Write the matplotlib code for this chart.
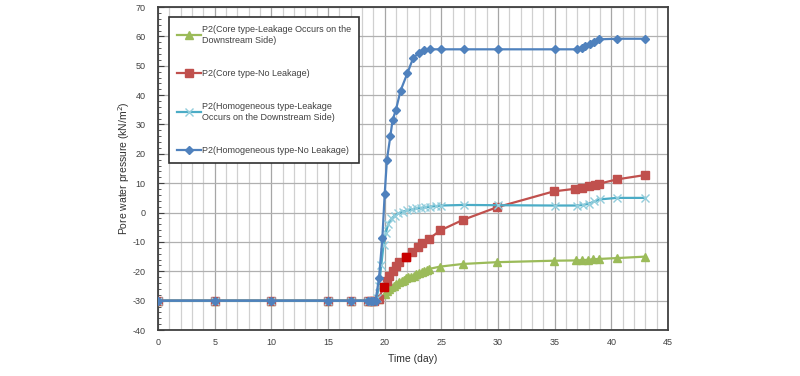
import numpy as np
import matplotlib
matplotlib.use("Agg")
import matplotlib.pyplot as plt
from matplotlib.ticker import MultipleLocator

plt.rcParams['font.family'] = ['Liberation Sans', 'DejaVu Sans']
plt.rcParams['axes.unicode_minus'] = False

# P2 (Core type - Leakage occurs on the downstream side)
core_leak_t = [0, 5, 10, 15, 17, 18.5, 19.0, 19.5, 20.0, 20.2, 20.4, 20.6, 20.8, 21.0, 21.3, 21.5,
               21.7, 21.9, 22.1, 22.3, 22.6, 22.8, 23.0, 23.3, 23.5, 23.7, 23.9, 24.9, 26.9, 29.9,
               34.9, 36.9, 37.4, 37.9, 38.4, 38.9, 40.5, 43.0]
core_leak_p = [-30, -30, -30, -30, -30, -30, -30, -29.5, -27.7, -26.8, -26.0, -25.4, -24.9, -24.4,
               -23.8, -23.3, -22.8, -22.4, -22.0, -21.8, -21.5, -21.0, -20.6, -20.2, -19.8, -19.5,
               -19.2, -18.4, -17.5, -16.9, -16.4, -16.3, -16.2, -16.1, -15.9, -15.8, -15.5, -15.0]

# P2 (Core type - No leakage)
core_no_t = [0, 5, 10, 15, 17, 18.5, 18.8, 19.1, 19.5, 19.9, 20.2, 20.4, 20.7, 21.0, 21.3, 21.9,
             22.4, 22.9, 23.3, 23.9, 24.9, 26.9, 29.9, 34.9, 36.8, 37.4, 38.0, 38.6, 38.9, 40.5, 43.0]
core_no_p = [-30, -30, -30, -30, -30, -30, -30, -30, -29.3, -25.2, -23.2, -21.5, -19.8, -18.3,
             -16.9, -15.2, -13.3, -11.8, -10.5, -9.0, -6.1, -2.5, 1.8, 7.2, 8.1, 8.5, 9.0, 9.4,
             9.8, 11.3, 12.8]
core_no_hl_t = [19.9, 21.9]
core_no_hl_p = [-25.2, -15.2]

# P2 (Homogeneous type - Leakage occurs on the downstream side)
homo_leak_t = [0, 5, 10, 15, 17, 18.5, 19.0, 19.3, 19.5, 19.7, 19.9, 20.1, 20.3, 20.6, 20.9, 21.2,
               21.6, 22.0, 22.4, 22.8, 23.2, 23.6, 24.0, 24.5, 25.0, 27.0, 30.0, 35.0, 37.0, 37.5,
               38.0, 38.5, 39.0, 40.5, 43.0]
homo_leak_p = [-30, -30, -30, -30, -30, -30, -30, -29, -25, -18, -11, -7, -4, -2, -1, -0.3,
               0.3, 0.8, 1.1, 1.4, 1.6, 1.8, 2.0, 2.2, 2.4, 2.6, 2.5, 2.4, 2.4, 2.6,
               3.0, 3.8, 4.5, 5.0, 5.0]

# P2 (Homogeneous type - No leakage)
homo_no_t = [0, 5, 10, 15, 17, 18.5, 18.8, 19.0, 19.2, 19.5, 19.8, 20.0, 20.2, 20.5, 20.7, 21.0,
             21.4, 22.0, 22.5, 23.0, 23.5, 24.0, 25.0, 27.0, 30.0, 35.0, 37.0, 37.4, 37.7, 38.1,
             38.5, 38.9, 40.5, 43.0]
homo_no_p = [-30, -30, -30, -30, -30, -30, -30, -30, -30, -22.3, -8.5, 6.2, 18.0, 26.0, 31.5, 35.1,
             41.5, 47.4, 52.5, 54.4, 55.3, 55.6, 55.6, 55.6, 55.6, 55.6, 55.6, 56.1, 56.7, 57.4,
             58.1, 59.0, 59.2, 59.2]

labels = ["P2(Core type-Leakage Occurs on the\nDownstream Side)",
          "P2(Core type-No Leakage)",
          "P2(Homogeneous type-Leakage\nOccurs on the Downstream Side)",
          "P2(Homogeneous type-No Leakage)"]

fig = plt.figure(figsize=(8, 3.76), dpi=100)
ax = fig.add_axes([0.1975, 0.1223, 0.6375, 0.8590])

ax.plot(core_leak_t, core_leak_p, '-^', color='#9BBB59', lw=1.6, ms=5.5, label=labels[0], zorder=3)
ax.plot(core_no_t, core_no_p, '-s', color='#C0504D', lw=1.6, ms=6, label=labels[1], zorder=4)
ax.plot(core_no_hl_t, core_no_hl_p, 's', color='#C80000', ms=6, zorder=5)
ax.plot(homo_leak_t, homo_leak_p, '-x', color='#4BACC6', mec='#92CDDC', lw=1.6, ms=6, mew=1,
        label=labels[2], zorder=4)
ax.plot(homo_no_t, homo_no_p, '-D', color='#4F81BD', lw=1.6, ms=4.5, label=labels[3], zorder=6)

ax.set_xlim(0, 45)
ax.set_ylim(-40, 70)
ax.xaxis.set_major_locator(MultipleLocator(5))
ax.xaxis.set_minor_locator(MultipleLocator(1))
ax.yaxis.set_major_locator(MultipleLocator(10))
ax.yaxis.set_minor_locator(MultipleLocator(2))

ax.grid(which='major', axis='x', color='#A6A6A6', lw=0.9)
ax.grid(which='minor', axis='x', color='#D0D0D0', lw=0.9)
ax.grid(which='major', axis='y', color='#B0B0B0', lw=0.9)
ax.set_axisbelow(True)

for s in ax.spines.values():
    s.set_color('#404040')
    s.set_linewidth(1.3)

ax.tick_params(axis='y', which='both', direction='in', colors='#404040', labelsize=6.5, pad=9)
ax.tick_params(axis='y', which='major', length=4)
ax.tick_params(axis='y', which='minor', length=2.5)
ax.tick_params(axis='x', which='both', length=0, colors='#404040', labelsize=6.5, pad=6)

ax.set_xlabel('Time (day)', fontsize=7.5, color='#303030', labelpad=5)
ax.set_ylabel('Pore water pressure (kN/m$^2$)', fontsize=7.5, color='#303030', labelpad=0)

leg = ax.legend(loc='upper left', bbox_to_anchor=(0.0216, 0.969), fontsize=6.5,
                frameon=True, fancybox=False, labelspacing=2.7, borderpad=0.9,
                handlelength=2.6, handletextpad=0.15, borderaxespad=0)
leg.get_frame().set_edgecolor('#303030')
leg.get_frame().set_linewidth(1.2)
leg.get_frame().set_alpha(1)
for t in leg.get_texts():
    t.set_color('#404040')

fig.savefig('out.png', dpi=100)
